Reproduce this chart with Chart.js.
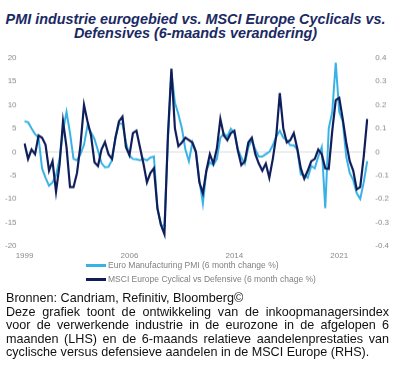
<!DOCTYPE html>
<html><head><meta charset="utf-8">
<script src="https://cdn.jsdelivr.net/npm/chart.js@4.4.1/dist/chart.umd.min.js"></script>
<style>
html,body{margin:0;padding:0;background:#fff;width:408px;height:375px;overflow:hidden;font-family:"Liberation Sans",Arial,sans-serif;}
#title{position:absolute;left:0;top:11.5px;width:391px;text-align:center;font-weight:bold;font-style:italic;font-size:14.4px;line-height:14.3px;color:#1b2a63;white-space:nowrap;}
#wrap{position:absolute;left:-3px;top:45px;width:400px;height:219.5px;}
#legend{position:absolute;left:86px;top:258px;font-size:8.5px;color:#808080;}
.li{display:flex;align-items:center;height:14px;white-space:nowrap;}
.sw{width:20px;height:3px;margin-right:2px;}
#foot{position:absolute;left:6px;top:292px;width:383px;font-size:12.6px;line-height:13.6px;color:#111;}
#foot div{white-space:nowrap;}
.j{text-align:justify;text-align-last:justify;}
</style></head>
<body>
<div id="title">PMI industrie eurogebied vs. MSCI Europe Cyclicals vs.<br>Defensives (6-maands verandering)</div>
<div id="wrap"><canvas id="c"></canvas></div>
<div id="legend"></div>
<div id="foot">
<div>Bronnen: Candriam, Refinitiv, Bloomberg©</div>
<div class="j">Deze grafiek toont de ontwikkeling van de inkoopmanagersindex</div>
<div class="j">voor de verwerkende industrie in de eurozone in de afgelopen 6</div>
<div class="j">maanden (LHS) en de 6-maands relatieve aandelenprestaties van</div>
<div>cyclische versus defensieve aandelen in de MSCI Europe (RHS).</div>
</div>
<script>
// quarterly categories 1999 Q1 .. 2023 Q3
const categories = [];
for (let y = 1999; y <= 2023; y++) for (let q = 1; q <= 4; q++) { if (categories.length < 99) categories.push(y + ' Q' + q); }

const tickCategories = ['1999 Q1', '2006 Q3', '2014 Q1', '2021 Q3'];
const tickLabels = ['1999', '2006', '2014', '2021'];

const seriesNames = ['Euro Manufacturing PMI (6 month change %)', 'MSCI Europe Cyclical vs Defensive (6 month chage %)'];

// LHS: Euro Manufacturing PMI, 6 month change %
const pmiChange = [
 6.5, 6.3, 5.0, 3.8, 3.0, -3.5, -5.5, -7.2, -6.5, -5.0,
 -1.5, 4.5, 8.5, 4.0, -1.5, -1.8, -0.5, 1.5, 5.6, 4.2,
 2.7, 0.3, -2.4, -3.3, -3.2, -1.8, 3.0, 6.0, 6.0, 2.0,
 -0.8, -1.5, -1.6, -1.8, -1.5, -1.8, -1.2, -1.0, -12.0, -15.5,
 -15.8, 2.5, 17.0, 10.5, 8.0, 5.0, 0.5, -2.0, 2.0, 0.0,
 -6.0, -11.0, -4.0, -2.2, -2.8, -1.5, 3.0, 3.9, 3.3, 4.9,
 4.0, 0.5, -1.2, -2.5, 1.0, 2.5, 0.5, -1.0, -1.0, -0.5,
 0.0, 1.4, 3.3, 4.5, 3.0, 2.5, 1.4, 1.4, 0.5, -4.8,
 -5.0, -5.5, -3.0, -3.5, -1.0, 1.0, -12.0, 5.0, 8.5, 19.0,
 8.5, 6.5, -1.0, -4.5, -6.0, -8.8, -10.0, -6.5, -2.0
];

// RHS: MSCI Europe Cyclical vs Defensive, 6 month change
const cycVsDef = [
 0.036, -0.03, 0.01, -0.01, 0.07, 0.06, 0.03, -0.08, -0.04, -0.17,
 -0.056, 0.13, 0.02, -0.15, -0.15, -0.09, 0.03, 0.20, 0.13, 0.07,
 -0.044, -0.06, 0.01, 0.042, -0.01, -0.03, 0.06, 0.13, 0.15, 0.02,
 -0.014, 0.08, 0.09, 0.02, -0.05, -0.13, -0.09, -0.07, -0.24, -0.31,
 -0.35, 0.07, 0.354, 0.10, 0.024, 0.04, 0.06, 0.05, 0.04, 0.0,
 -0.13, -0.176, -0.08, -0.01, -0.05, 0.014, 0.14, 0.07, 0.05, 0.08,
 0.09, 0.006, -0.056, -0.04, 0.04, 0.06, -0.01, -0.05, -0.08, -0.05,
 -0.11, -0.03, 0.07, 0.25, 0.10, 0.04, 0.05, 0.08, 0.014, -0.07,
 -0.114, -0.08, -0.04, -0.03, 0.01, -0.01, -0.07, -0.072, 0.09, 0.22,
 0.23, 0.14, 0.04, -0.04, -0.08, -0.16, -0.15, -0.02, 0.14
];

const colors = ['#38b2e6', '#0f1e5a'];

const tickFont = {family: '"Liberation Sans", Arial, sans-serif', size: 8};
const tickColor = '#8a8a8a';

const chart = new Chart(document.getElementById('c'), {
  type: 'line',
  data: {
    labels: categories,
    datasets: [
      {label: seriesNames[0], data: pmiChange, yAxisID: 'yL', borderColor: colors[0], backgroundColor: colors[0], borderWidth: 2, pointRadius: 0, tension: 0, order: 1},
      {label: seriesNames[1], data: cycVsDef, yAxisID: 'yR', borderColor: colors[1], backgroundColor: colors[1], borderWidth: 2.2, pointRadius: 0, tension: 0, order: 0}
    ]
  },
  options: {
    responsive: true,
    maintainAspectRatio: false,
    animation: false,
    layout: {padding: 0},
    plugins: {legend: {display: false}, tooltip: {enabled: false}},
    scales: {
      x: {
        type: 'category',
        offset: false,
        grid: {display: false, drawTicks: false},
        border: {display: false},
        ticks: {
          autoSkip: false, maxRotation: 0, padding: 5, font: tickFont, color: tickColor,
          callback: function(v, i) { const k = tickCategories.indexOf(categories[i]); return k >= 0 ? tickLabels[k] : null; }
        }
      },
      yL: {
        position: 'left', min: -20, max: 20,
        ticks: {stepSize: 5, padding: 8, font: tickFont, color: tickColor},
        grid: {drawTicks: false, color: ctx => ctx.tick && ctx.tick.value === 0 ? '#dcdcdc' : 'rgba(0,0,0,0)'},
        border: {display: false}
      },
      yR: {
        position: 'right', min: -0.4, max: 0.4,
        ticks: {stepSize: 0.1, padding: 8, font: tickFont, color: tickColor},
        grid: {display: false, drawTicks: false},
        border: {display: false}
      }
    }
  }
});

// HTML legend built from the datasets (stacked, left aligned as in the original)
const lg = document.getElementById('legend');
chart.data.datasets.forEach(ds => {
  const row = document.createElement('div'); row.className = 'li';
  const sw = document.createElement('span'); sw.className = 'sw'; sw.style.background = ds.borderColor;
  const tx = document.createElement('span'); tx.textContent = ds.label;
  row.appendChild(sw); row.appendChild(tx); lg.appendChild(row);
});
</script>
</body></html>
